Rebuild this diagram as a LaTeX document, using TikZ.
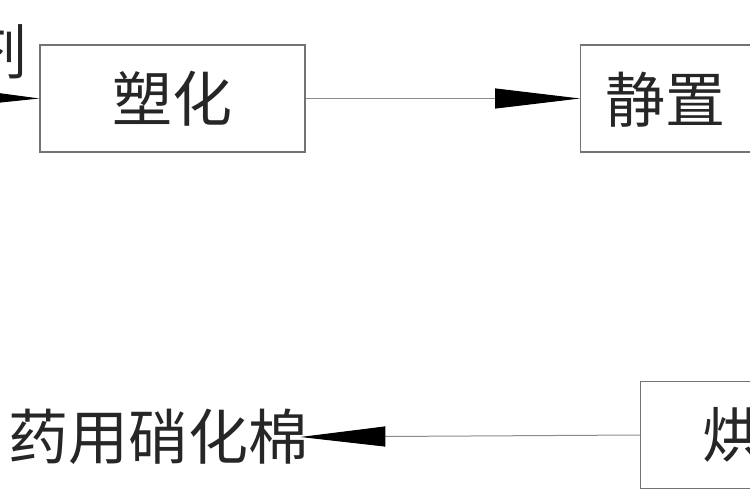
\documentclass[tikz,border=0pt]{standalone}
\usepackage{fontspec}
\newfontfamily\cjk{Noto Sans CJK SC}
\usetikzlibrary{arrows.meta}
\begin{document}
\begin{tikzpicture}[x=1pt,y=-1pt,
  box/.style={draw=black!55,line width=1.2pt,minimum height=107pt,inner sep=0pt},
  lbl/.style={font=\cjk\fontsize{60}{64}\selectfont,text=black!85,inner sep=0pt},
  conn/.style={draw=black!45,line width=1pt,-{Triangle[length=85pt,width=20pt,fill=black,color=black]}}]
\useasboundingbox (0,0) rectangle (750,500);
\clip (0,0) rectangle (750,500);
\fill[white] (0,0) rectangle (750,500);
\node[box,minimum width=265pt] (b1) at (172.5,98.5) {};
\node[lbl] (t1) at (b1) {塑化};
\node[box,minimum width=200pt,anchor=west] (b2) at (580,98.5) {};
\node[lbl,anchor=west] (t2) at (605,100) {静置};
\node[box,minimum width=150pt,anchor=west] (b3) at (640,435) {};
\node[lbl,anchor=west] (t3) at (702,435) {烘};
\node[lbl,anchor=west] (t4) at (8,437) {药用硝化棉};
\node[lbl,anchor=east] (t0) at (28,52) {剂};
\coordinate (s0) at (-60,97);
\draw[conn] (s0) -- (b1.west);
\draw[conn] (b1.east) -- (b2.west);
\draw[conn] (b3.west) -- ([xshift=-8pt]t4.east);
\end{tikzpicture}
\end{document}
